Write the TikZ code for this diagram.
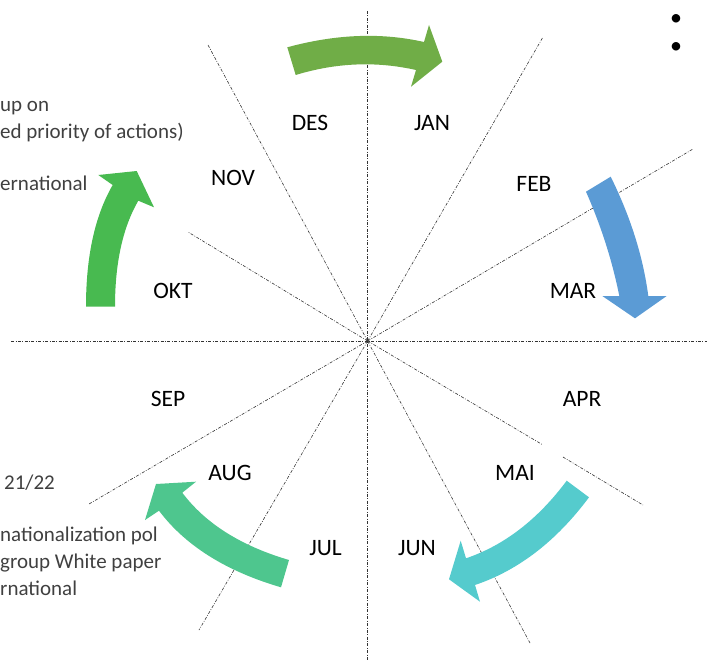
\documentclass[tikz,border=0pt]{standalone}
\usepackage{fontspec}
\setmainfont{Carlito}
\begin{document}
\begin{tikzpicture}[x=1pt,y=-1pt,
  spoke/.style={line width=0.6pt, black!80, dash pattern=on 3pt off 1.5pt on 0.8pt off 1.5pt},
  month/.style={anchor=base, inner sep=0pt, font=\fontsize{23.5}{28}\selectfont},
  note/.style={anchor=base west, inner sep=0pt, text=black!75, font=\fontsize{21}{25}\selectfont},
  bullet/.style={anchor=center, inner sep=0pt, font=\fontsize{24}{28}\selectfont}
  ]
\useasboundingbox (0,0) rectangle (707,661);
\definecolor{arrA}{HTML}{70AD47}
\definecolor{arrB}{HTML}{5B9BD5}
\definecolor{arrC}{HTML}{55CBCD}
\definecolor{arrD}{HTML}{4EC68E}
\definecolor{arrE}{HTML}{48BA50}

% spokes
\coordinate (c) at (367.6,341);
\coordinate (eN) at (367.6,11);
\coordinate (eS) at (367.6,661);
\coordinate (eW) at (11,341);
\coordinate (eE) at (707,341);
\coordinate (e120) at (208,45);
\coordinate (e150) at (188,232);
\coordinate (e60) at (543,37);
\coordinate (e30) at (693,149);
\coordinate (gA) at (543,445);
\coordinate (gB) at (563,457);
\coordinate (em30) at (643,505);
\coordinate (em60) at (530,643);
\coordinate (em120) at (199,630);
\coordinate (em150) at (89,504);
\draw[spoke] (eN) -- (eS);
\draw[spoke] (eW) -- (eE);
\draw[spoke] (c) -- (e120);
\draw[spoke] (c) -- (e150);
\draw[spoke] (c) -- (e60);
\draw[spoke] (c) -- (e30);
\draw[spoke] (c) -- (gA);
\draw[spoke] (gB) -- (em30);
\draw[spoke] (c) -- (em60);
\draw[spoke] (c) -- (em120);
\draw[spoke] (c) -- (em150);

% arrows
\fill[arrA] (287.3,47.3) .. controls (335.8,34.1) and (381.3,32.3) .. (424,42) -- (429,25) -- (442.3,61.7) -- (411,86.7) -- (416,70) .. controls (376,61) and (335.9,62.7) .. (295.7,75) -- cycle;
\fill[arrB] (586,191.7) .. controls (601.2,226.3) and (612.3,260.9) .. (619.3,296) -- (602.3,296) -- (635,318.3) -- (666.7,296) -- (648.3,296) .. controls (643.1,256.7) and (630.6,216.9) .. (610.7,176.7) -- cycle;
\fill[arrC] (566.7,480.7) .. controls (537.7,519.6) and (504.1,545.4) .. (466,558.3) -- (460.7,540.7) -- (449,579.3) -- (480,601.7) -- (475,585) .. controls (518.3,570.4) and (556.3,541.2) .. (589,497.3) -- cycle;
\fill[arrD] (289,560) .. controls (241,545.9) and (205.4,523.5) .. (182.3,492.7) -- (196,481.7) -- (156,484) -- (145,520) -- (159,510.7) .. controls (185.3,545.6) and (225.9,571.2) .. (281,587.3) -- cycle;
\fill[arrE] (86,306.7) .. controls (86,256.2) and (94.9,215.7) .. (112.7,185) -- (98.3,175) -- (136.7,171) -- (154,207.3) -- (138.3,200.7) .. controls (122.8,227.5) and (115,262.8) .. (115,306.7) -- cycle;

% months
\node[month] (des) at (310,130) {DES};
\node[month] (jan) at (432,130) {JAN};
\node[month] (nov) at (233,185.5) {NOV};
\node[month] (feb) at (534,191) {FEB};
\node[month] (okt) at (173,298.5) {OKT};
\node[month] (mar) at (573,298.5) {MAR};
\node[month] (sep) at (168,406) {SEP};
\node[month] (apr) at (582,406) {APR};
\node[month] (aug) at (230,480.5) {AUG};
\node[month] (mai) at (515,480) {MAI};
\node[month] (jul) at (325.5,555.5) {JUL};
\node[month] (jun) at (417,555.5) {JUN};

% side notes
\node[note] (n1) at (0,111.7) {up on};
\node[note] (n2) at (0,138.3) {ed priority of actions)};
\node[note] (n3) at (0,190) {ernational};
\node[note] (n4) at (4,489) {21/22};
\node[note] (n5) at (0,541.7) {nationalization pol};
\node[note] (n6) at (0,568.3) {group White paper};
\node[note] (n7) at (0,595) {rnational};

% bullets
\node[bullet] (b1) at (676,20) {•};
\node[bullet] (b2) at (676,48) {•};
\end{tikzpicture}
\end{document}
